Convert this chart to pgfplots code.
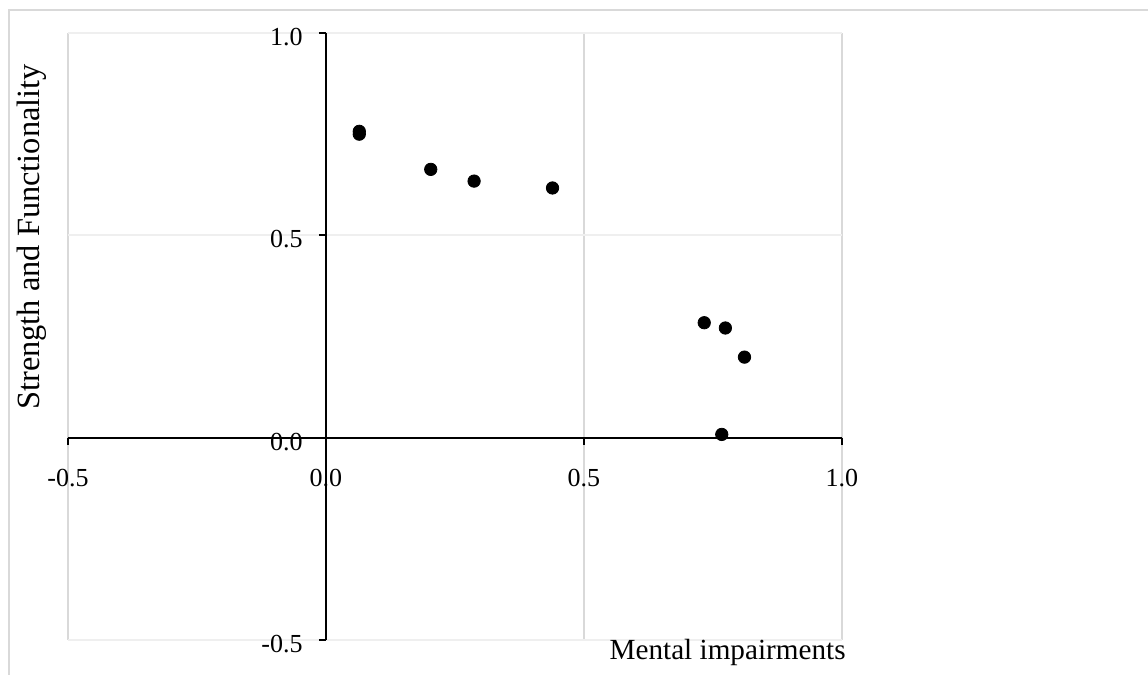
\documentclass[border=0pt]{standalone}
\usepackage{pgfplots}
\pgfplotsset{compat=1.18}
\usepackage{fontspec}
\setmainfont{Liberation Serif}
\definecolor{vgrid}{HTML}{D9D9D9}
\definecolor{hgrid}{HTML}{EFEFEF}
\definecolor{frame}{HTML}{D9D9D9}
\begin{document}
\begin{tikzpicture}[x=1pt,y=1pt]
\path[use as bounding box] (0,0) rectangle (574,337.5);
\draw[frame, line width=1pt] (4.5,-2) -- (4.5,332.5) -- (576,332.5);
\begin{axis}[
  at={(34pt,17.5pt)}, anchor=south west,
  scale only axis, width=387pt, height=303.5pt,
  xmin=-0.5, xmax=1, ymin=-0.5, ymax=1,
  axis lines=middle,
  axis line style={-, black, line width=0.9pt},
  hide obscured x ticks=false, hide obscured y ticks=false,
  xtick={-0.5,0,0.5,1}, ytick={-0.5,0,0.5,1},
  xtick align=outside, ytick align=outside,
  major tick length=3.5pt,
  tick style={black, line width=0.9pt},
  grid=major,
  x grid style={vgrid, line width=0.9pt},
  y grid style={hgrid, line width=0.9pt},
  /pgf/number format/assume math mode=true,
  /pgf/number format/.cd, fixed, fixed zerofill, precision=1, /pgfplots/.cd,
  xticklabel style={anchor=north, inner sep=0pt, yshift=-12pt, font=\fontsize{13}{15}\selectfont},
  yticklabel style={anchor=east, inner sep=0pt, xshift=-8pt, yshift=-2pt, font=\fontsize{13}{15}\selectfont},
  clip=false,
]
\addplot[only marks, mark=*, mark size=3.1pt, black] coordinates {
  (0.0645,0.757) (0.0645,0.750) (0.203,0.663) (0.287,0.634) (0.439,0.617)
  (0.733,0.284) (0.774,0.271) (0.811,0.199) (0.767,0.008)
};
\end{axis}
\node[anchor=base east, inner sep=0pt, font=\fontsize{14.6}{16}\selectfont] at (423,7.5) {Mental impairments};
\node[rotate=90, anchor=base, inner sep=0pt, font=\fontsize{16.2}{18}\selectfont] at (20,219) {Strength and Functionality};
\end{tikzpicture}
\end{document}
